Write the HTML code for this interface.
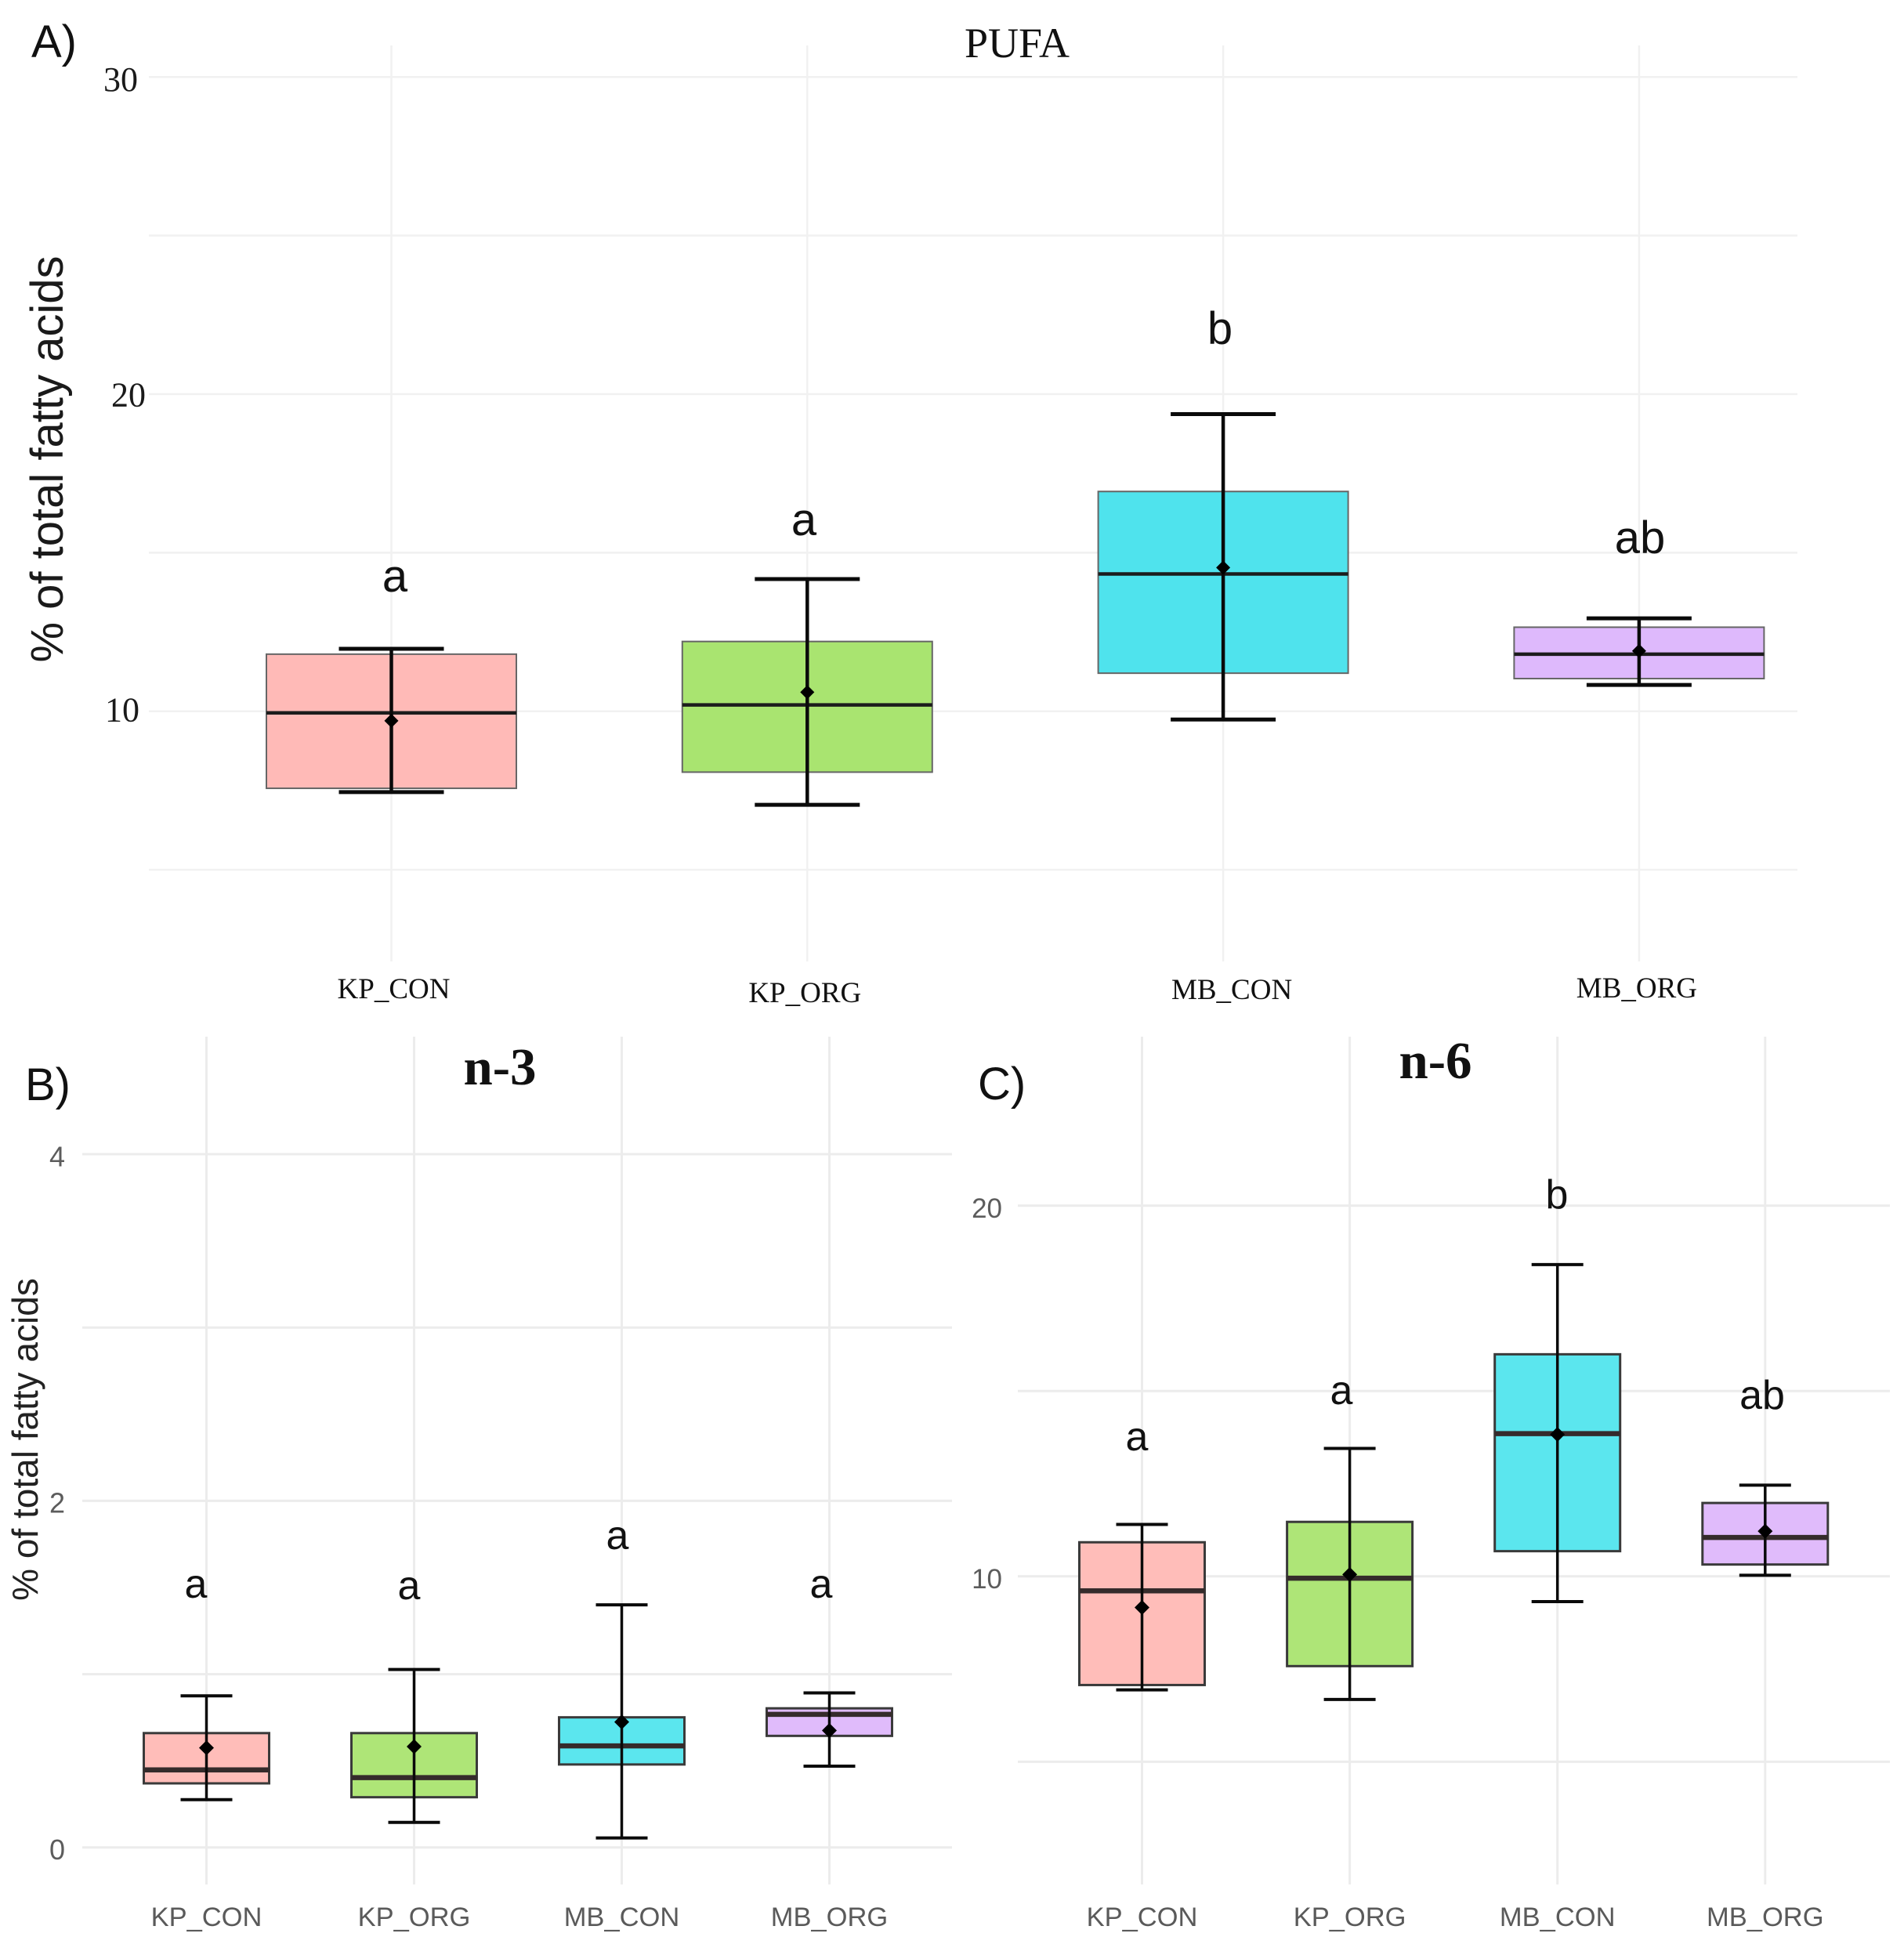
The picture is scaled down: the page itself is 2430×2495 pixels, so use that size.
<!DOCTYPE html>
<html lang="en">
<head>
<meta charset="utf-8">
<title>PUFA, n-3 and n-6 box plots</title>
<style>
html,body{margin:0;padding:0;background:#fff;width:2430px;height:2495px;overflow:hidden}
svg{display:block}
text{font-family:"Liberation Sans",sans-serif}
.serif{font-family:"Liberation Serif",serif}
</style>
</head>
<body>
<svg id="figure" xmlns="http://www.w3.org/2000/svg" width="2430" height="2495" viewBox="0 0 2430 2495">
  <g id="panel-a"></g>
  <g id="panel-b"></g>
  <g id="panel-c"></g>
  <g>
    <text x="40" y="73" font-size="58" fill="#111">A)</text>
    <text x="32" y="1404" font-size="58" fill="#111">B)</text>
    <text x="1248" y="1403" font-size="58" fill="#111">C)</text>
    <text class="serif" x="1298" y="73" font-size="54" text-anchor="middle" fill="#111">PUFA</text>
    <text class="serif" x="638" y="1384" font-size="67" font-weight="700" text-anchor="middle" fill="#111">n-3</text>
    <text class="serif" x="1832" y="1376" font-size="67" font-weight="700" text-anchor="middle" fill="#111">n-6</text>
    <text transform="translate(80 586) rotate(-90)" font-size="58" text-anchor="middle" fill="#1a1a1a">% of total fatty acids</text>
    <text transform="translate(48 1837) rotate(-90)" font-size="46" text-anchor="middle" fill="#222">% of total fatty acids</text>
    <text x="504" y="755" font-size="58" text-anchor="middle" fill="#111">a</text>
    <text x="1026" y="683" font-size="58" text-anchor="middle" fill="#111">a</text>
    <text x="1557" y="439" font-size="58" text-anchor="middle" fill="#111">b</text>
    <text x="2093" y="706" font-size="58" text-anchor="middle" fill="#111">ab</text>
    <text x="250" y="2039" font-size="52" text-anchor="middle" fill="#111">a</text>
    <text x="522" y="2041" font-size="52" text-anchor="middle" fill="#111">a</text>
    <text x="788" y="1977" font-size="52" text-anchor="middle" fill="#111">a</text>
    <text x="1048" y="2039" font-size="52" text-anchor="middle" fill="#111">a</text>
    <text x="1451" y="1851" font-size="52" text-anchor="middle" fill="#111">a</text>
    <text x="1712" y="1792" font-size="52" text-anchor="middle" fill="#111">a</text>
    <text x="1987" y="1542" font-size="52" text-anchor="middle" fill="#111">b</text>
    <text x="2249" y="1798" font-size="52" text-anchor="middle" fill="#111">ab</text>
  </g>
</svg>
<script>
const categories = ['KP_CON', 'KP_ORG', 'MB_CON', 'MB_ORG'];

const pufaHigh   = [11.97, 14.17, 19.37, 12.93];
const pufaQ3     = [11.80, 12.20, 16.93, 12.65];
const pufaMedian = [9.95, 10.20, 14.33, 11.80];
const pufaMean   = [9.70, 10.60, 14.53, 11.90];
const pufaQ1     = [7.57, 8.08, 11.20, 11.03];
const pufaLow    = [7.45, 7.05, 9.74, 10.83];
const pufaGrid   = [5, 10, 15, 20, 25, 30];
const pufaTicks  = [10, 20, 30];

const n3High   = [0.875, 1.027, 1.40, 0.892];
const n3Q3     = [0.66, 0.66, 0.751, 0.803];
const n3Median = [0.448, 0.403, 0.586, 0.768];
const n3Mean   = [0.575, 0.582, 0.724, 0.675];
const n3Q1     = [0.37, 0.29, 0.479, 0.644];
const n3Low    = [0.276, 0.145, 0.055, 0.469];
const n3Grid   = [0, 1, 2, 3, 4];
const n3Ticks  = [0, 2, 4];

const n6High   = [11.40, 13.45, 18.41, 12.46];
const n6Q3     = [10.92, 11.47, 15.99, 11.98];
const n6Median = [9.61, 9.95, 13.85, 11.05];
const n6Mean   = [9.16, 10.05, 13.83, 11.22];
const n6Q1     = [7.07, 7.58, 10.68, 10.32];
const n6Low    = [6.94, 6.68, 9.32, 10.03];
const n6Grid   = [5, 10, 15, 20];
const n6Ticks  = [10, 20];

const NS = 'http://www.w3.org/2000/svg';
function mk(parent, tag, attrs, txt) {
  const e = document.createElementNS(NS, tag);
  for (const k in attrs) e.setAttribute(k, attrs[k]);
  if (txt !== undefined) e.textContent = txt;
  parent.appendChild(e);
  return e;
}

function drawPanel(cfg, s) {
  const g = document.getElementById(cfg.id);
  const xScale = i => cfg.x0 + i * cfg.xStep;
  const yScale = v => cfg.y0 - v * cfg.yUnit;

  s.grid.forEach(v => {
    const line = mk(g, 'line', {x1: cfg.left, x2: cfg.right, y1: yScale(v), y2: yScale(v), stroke: cfg.gridColor, 'stroke-width': cfg.gridWidth});
    
    
  });
  categories.forEach((c, i) => {
    const line = mk(g, 'line', {x1: xScale(i), x2: xScale(i), y1: cfg.top, y2: cfg.bottom, stroke: cfg.gridColor, 'stroke-width': cfg.gridWidth});
    
    
  });

  s.ticks.forEach(v => {
    const t = mk(g, 'text', {x: cfg.tickX(v), y: yScale(v) + cfg.tickDy(v), 'text-anchor': 'end', 'font-size': cfg.tickSize, fill: cfg.tickColor, class: cfg.serif ? 'serif' : ''}, String(v));
    
    
  });

  categories.forEach((c, i) => {
    const cx = xScale(i);
    const slug = cfg.id + '-' + c.toLowerCase().replace('_', '-');

    const box = mk(g, 'rect', {x: cx - cfg.boxHalf, y: yScale(s.q3[i]), width: cfg.boxHalf * 2, height: yScale(s.q1[i]) - yScale(s.q3[i]), fill: cfg.fills[i], stroke: cfg.boxStroke, 'stroke-width': cfg.boxWidth});
    
    

    const med = mk(g, 'line', {x1: cx - cfg.boxHalf, x2: cx + cfg.boxHalf, y1: yScale(s.median[i]), y2: yScale(s.median[i]), stroke: cfg.medianColor, 'stroke-width': cfg.medianWidth});
    
    

    const whisk = mk(g, 'line', {x1: cx, x2: cx, y1: yScale(s.high[i]), y2: yScale(s.low[i]), stroke: '#0a0a0a', 'stroke-width': cfg.whiskerWidth});
    
    

    const capHi = mk(g, 'line', {x1: cx - cfg.capHalf, x2: cx + cfg.capHalf, y1: yScale(s.high[i]), y2: yScale(s.high[i]), stroke: '#0a0a0a', 'stroke-width': cfg.capWidth});
    
    

    const capLo = mk(g, 'line', {x1: cx - cfg.capHalf, x2: cx + cfg.capHalf, y1: yScale(s.low[i]), y2: yScale(s.low[i]), stroke: '#0a0a0a', 'stroke-width': cfg.capWidth});
    
    

    const my = yScale(s.mean[i]), d = cfg.diamond;
    const mean = mk(g, 'polygon', {points: [cx - d, my, cx, my - d, cx + d, my, cx, my + d].join(' '), fill: '#000'});
    
    

    const lab = mk(g, 'text', {x: cfg.labelX(cx, i), y: cfg.labelY(i), 'text-anchor': 'middle', 'font-size': cfg.labelSize, fill: cfg.labelColor, class: cfg.serif ? 'serif' : ''}, c);
    
    
  });
}

drawPanel({
  id: 'panel-a', x0: 499.5, xStep: 530.8, y0: 1312.4, yUnit: 40.47,
  left: 190, right: 2294, top: 58, bottom: 1227,
  gridColor: '#f1f1f1', gridWidth: 2.5,
  boxHalf: 159.5, capHalf: 67, boxStroke: '#666', boxWidth: 2,
  medianColor: '#1c1c1c', medianWidth: 4.5, whiskerWidth: 4.5, capWidth: 5, diamond: 9,
  fills: ['#FFBAB7', '#A9E470', '#4FE3ED', '#DEB9FC'],
  tickX: v => v === 20 ? 186 : (v === 30 ? 176 : 178), tickDy: v => 13 + (v - 10) * 0.24, tickSize: 44, tickColor: '#1a1a1a',
  labelX: (cx, i) => cx + [3, -3, 11, -3][i],
  labelY: i => [1274, 1279, 1275, 1273][i],
  labelSize: 37, labelColor: '#111', serif: true
}, {high: pufaHigh, q3: pufaQ3, median: pufaMedian, mean: pufaMean, q1: pufaQ1, low: pufaLow, grid: pufaGrid, ticks: pufaTicks});

drawPanel({
  id: 'panel-b', x0: 263.5, xStep: 265, y0: 2357.8, yUnit: 221.2,
  left: 105, right: 1215, top: 1323, bottom: 2405,
  gridColor: '#ececec', gridWidth: 3,
  boxHalf: 80, capHalf: 33, boxStroke: '#3a3a3a', boxWidth: 3,
  medianColor: '#352b2b', medianWidth: 6.5, whiskerWidth: 3.5, capWidth: 4, diamond: 9.5,
  fills: ['#FFBDB9', '#AEE577', '#5BE6EE', '#E0BBFB'],
  tickX: () => 83, tickDy: () => 15.3, tickSize: 36, tickColor: '#5c5c5c',
  labelX: cx => cx, labelY: () => 2458,
  labelSize: 34.5, labelColor: '#5a5a5a', serif: false
}, {high: n3High, q3: n3Q3, median: n3Median, mean: n3Mean, q1: n3Q1, low: n3Low, grid: n3Grid, ticks: n3Ticks});

drawPanel({
  id: 'panel-c', x0: 1457.5, xStep: 265.1, y0: 2485, yUnit: 47.32,
  left: 1299, right: 2412, top: 1323, bottom: 2405,
  gridColor: '#ececec', gridWidth: 3,
  boxHalf: 80, capHalf: 33, boxStroke: '#3a3a3a', boxWidth: 3,
  medianColor: '#352b2b', medianWidth: 6.5, whiskerWidth: 3.5, capWidth: 4, diamond: 9.5,
  fills: ['#FFBDB9', '#AEE577', '#5BE6EE', '#E0BBFB'],
  tickX: () => 1279, tickDy: () => 15.3, tickSize: 35, tickColor: '#5c5c5c',
  labelX: cx => cx, labelY: () => 2458,
  labelSize: 34.5, labelColor: '#5a5a5a', serif: false
}, {high: n6High, q3: n6Q3, median: n6Median, mean: n6Mean, q1: n6Q1, low: n6Low, grid: n6Grid, ticks: n6Ticks});
</script>
</body>
</html>
